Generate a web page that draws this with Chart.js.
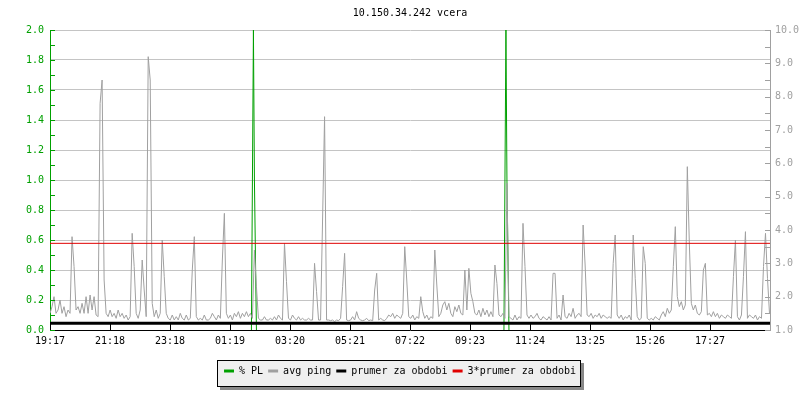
<!DOCTYPE html>
<html>
<head>
<meta charset="utf-8">
<title>10.150.34.242 vcera</title>
<script src="https://cdn.jsdelivr.net/npm/chart.js@4.4.1/dist/chart.umd.min.js"></script>
<style>
  html, body { margin: 0; padding: 0; background: #fff; }
  #wrap { width: 800px; height: 400px; }
</style>
</head>
<body>
<div id="wrap"><canvas id="pingChart" width="800" height="400"></canvas></div>
<script>
// time axis in minutes since 19:17, one ping sample every 4 minutes
const sampleStep = 4;
const spanMinutes = 1437;
const tickStep = 120.75;
const timeLabels = ["19:17", "21:18", "23:18", "01:19", "03:20", "05:21", "07:22", "09:23", "11:24", "13:25", "15:26", "17:27"];

// avg ping (right axis, ms)
const avgPing = [
    1.5, 1.7, 2.0, 1.5, 1.6, 1.9, 1.5, 1.7, 1.4, 1.6, 1.5, 3.8, 2.9, 1.6, 1.7, 1.5, 1.8, 1.5, 2.0, 1.5,
    2.05, 1.6, 2.0, 1.45, 1.4, 7.8, 8.5, 2.5, 1.5, 1.4, 1.6, 1.4, 1.5, 1.35, 1.6, 1.4, 1.5, 1.35, 1.45, 1.3,
    1.4, 3.9, 2.9, 1.5, 1.35, 1.6, 3.1, 2.2, 1.4, 9.2, 8.5, 1.8, 1.4, 1.6, 1.35, 1.5, 3.7, 2.6, 1.5, 1.35,
    1.3, 1.45, 1.3, 1.4, 1.3, 1.5, 1.35, 1.3, 1.45, 1.3, 1.35, 2.8, 3.8, 1.4, 1.3, 1.35, 1.3, 1.45, 1.3, 1.3,
    1.35, 1.5, 1.4, 1.3, 1.45, 1.35, 3.1, 4.5, 1.5, 1.35, 1.45, 1.3, 1.5, 1.4, 1.55, 1.35, 1.5, 1.4, 1.55, 1.4,
    1.5, 1.35, 3.4, 2.3, 1.35, 1.3, 1.3, 1.4, 1.3, 1.3, 1.35, 1.3, 1.4, 1.3, 1.45, 1.35, 1.3, 3.6, 2.45, 1.35,
    1.3, 1.45, 1.35, 1.3, 1.4, 1.3, 1.35, 1.3, 1.3, 1.35, 1.3, 1.3, 3.0, 2.15, 1.3, 1.3, 4.3, 7.4, 1.3, 1.3,
    1.28, 1.3, 1.25, 1.3, 1.28, 1.35, 2.3, 3.3, 1.3, 1.28, 1.3, 1.4, 1.3, 1.55, 1.35, 1.3, 1.28, 1.3, 1.35, 1.28,
    1.3, 1.28, 2.2, 2.7, 1.3, 1.35, 1.3, 1.28, 1.35, 1.45, 1.4, 1.5, 1.35, 1.45, 1.4, 1.35, 1.5, 3.5, 2.5, 1.4,
    1.35, 1.45, 1.3, 1.4, 1.35, 2.0, 1.55, 1.35, 1.45, 1.3, 1.4, 1.35, 3.4, 2.35, 1.4, 1.5, 1.75, 1.85, 1.6, 1.8,
    1.5, 1.4, 1.7, 1.55, 1.75, 1.5, 1.45, 2.8, 1.6, 2.85, 2.1, 1.85, 1.5, 1.45, 1.6, 1.4, 1.65, 1.45, 1.6, 1.4,
    1.55, 1.4, 2.95, 2.4, 1.45, 1.4, 1.5, 1.35, 5.4, 1.4, 1.35, 1.3, 1.45, 1.3, 1.4, 1.35, 4.2, 2.9, 1.45, 1.35,
    1.45, 1.35, 1.4, 1.5, 1.35, 1.3, 1.4, 1.35, 1.3, 1.4, 1.3, 2.7, 2.7, 1.35, 1.45, 1.3, 2.05, 1.4, 1.35, 1.5,
    1.4, 1.65, 1.35, 1.45, 1.5, 1.4, 4.15, 2.95, 1.45, 1.4, 1.5, 1.35, 1.45, 1.4, 1.5, 1.35, 1.45, 1.4, 1.35, 1.4,
    1.35, 3.0, 3.85, 1.45, 1.35, 1.45, 1.3, 1.4, 1.35, 1.45, 1.3, 3.85, 2.55, 1.4, 1.3, 1.35, 3.5, 3.0, 1.35, 1.3,
    1.35, 1.3, 1.4, 1.35, 1.3, 1.45, 1.55, 1.4, 1.65, 1.5, 1.6, 2.9, 4.1, 2.0, 1.7, 1.85, 1.6, 1.75, 5.9, 3.6,
    1.8, 1.6, 1.75, 1.5, 1.45, 1.55, 2.8, 3.0, 1.45, 1.5, 1.4, 1.55, 1.4, 1.5, 1.35, 1.45, 1.4, 1.35, 1.45, 1.4,
    1.35, 2.6, 3.7, 1.4, 1.3, 1.45, 2.6, 3.95, 1.35, 1.45, 1.4, 1.35, 1.45, 1.3, 1.4, 1.35, 2.9, 3.9, 2.55, 1.5
];

// % PL (left axis), only the two loss events, null breaks the line
const plMinutes = [402, 406, 408, 412, 660, 906, 910, 912, 916];
const plValues = [0, 2.0, 1.0, 0, null, 0, 2.0, 1.0, 0];

// period average of the ping
const meanPing = 1.2;

const plColor = "#00a000";
const pingColor = "#a0a0a0";
const meanColor = "#000000";
const tripleColor = "#e00000";
const gridColor = "#c4c4c4";

Chart.defaults.font.family = "'DejaVu Sans Mono', monospace";
Chart.defaults.font.size = 10;

// short inward tick marks on all three axes
const axisTicks = {
    id: "axisTicks",
    afterDraw(chart) {
        const { ctx, chartArea } = chart;
        const { x, yPL, yPing } = chart.scales;
        ctx.save();
        ctx.lineWidth = 1;

        ctx.strokeStyle = plColor;
        ctx.beginPath();
        yPL.ticks.forEach((t, i) => {
            const vals = [t.value];
            if (i + 1 < yPL.ticks.length) vals.push((t.value + yPL.ticks[i + 1].value) / 2);
            vals.forEach(v => {
                const py = Math.round(yPL.getPixelForValue(v)) + 0.5;
                ctx.moveTo(chartArea.left, py);
                ctx.lineTo(chartArea.left + 5, py);
            });
        });
        ctx.stroke();

        ctx.strokeStyle = pingColor;
        ctx.beginPath();
        yPing.ticks.forEach((t, i) => {
            const vals = [t.value];
            if (i + 1 < yPing.ticks.length) vals.push((t.value + yPing.ticks[i + 1].value) / 2);
            vals.forEach(v => {
                const py = Math.round(yPing.getPixelForValue(v)) + 0.5;
                ctx.moveTo(chartArea.right - 5, py);
                ctx.lineTo(chartArea.right, py);
            });
        });
        ctx.stroke();

        ctx.strokeStyle = "#000";
        ctx.beginPath();
        x.ticks.forEach(t => {
            const px = Math.round(x.getPixelForValue(t.value)) + 0.5;
            ctx.moveTo(px, chartArea.bottom);
            ctx.lineTo(px, chartArea.bottom - 7);
        });
        ctx.stroke();
        ctx.restore();
    }
};

// grey framed box with a shadow behind the legend items
const legendBox = {
    id: "legendBox",
    beforeDraw(chart) {
        const boxes = chart.legend.legendHitBoxes;
        if (!boxes || !boxes.length) return;
        const left = Math.round(Math.min(...boxes.map(b => b.left))) - 7;
        const right = Math.round(Math.max(...boxes.map(b => b.left + b.width))) + 5;
        const mid = boxes[0].top + boxes[0].height / 2;
        const top = Math.round(mid - 11);
        const bottom = top + 27;
        const ctx = chart.ctx;
        ctx.save();
        ctx.fillStyle = "#888";
        ctx.fillRect(left + 3, top + 3, right - left, bottom - top);
        ctx.fillStyle = "#efefef";
        ctx.fillRect(left, top, right - left, bottom - top);
        ctx.strokeStyle = "#000";
        ctx.lineWidth = 1;
        ctx.strokeRect(left + 0.5, top + 0.5, right - left - 1, bottom - top - 1);
        ctx.restore();
    }
};

new Chart(document.getElementById("pingChart").getContext("2d"), {
    type: "line",
    data: {
        datasets: [
            {
                label: "% PL",
                data: plMinutes.map((m, i) => ({ x: m, y: plValues[i] })),
                yAxisID: "yPL",
                borderColor: plColor,
                backgroundColor: plColor,
                borderWidth: 1,
                order: 4
            },
            {
                label: "avg ping",
                data: avgPing.map((v, i) => ({ x: i * sampleStep, y: v })),
                yAxisID: "yPing",
                borderColor: pingColor,
                backgroundColor: pingColor,
                borderWidth: 1,
                order: 3
            },
            {
                label: "prumer za obdobi",
                data: [{ x: 0, y: meanPing }, { x: spanMinutes, y: meanPing }],
                yAxisID: "yPing",
                borderColor: meanColor,
                backgroundColor: meanColor,
                borderWidth: 3,
                order: 2
            },
            {
                label: "3*prumer za obdobi",
                data: [{ x: 0, y: 3 * meanPing }, { x: spanMinutes, y: 3 * meanPing }],
                yAxisID: "yPing",
                borderColor: tripleColor,
                backgroundColor: tripleColor,
                borderWidth: 1,
                order: 1
            }
        ]
    },
    options: {
        responsive: false,
        animation: false,
        devicePixelRatio: 1,
        events: [],
        elements: {
            point: { radius: 0 },
            line: { tension: 0, fill: false }
        },
        layout: { padding: { bottom: 14 } },
        scales: {
            x: {
                type: "linear",
                min: 0,
                max: spanMinutes,
                grid: { display: false, drawTicks: false },
                border: { color: "#000" },
                ticks: {
                    stepSize: tickStep,
                    includeBounds: false,
                    autoSkip: false,
                    maxRotation: 0,
                    padding: 5,
                    color: "#000",
                    callback: v => timeLabels[Math.round(v / tickStep)]
                },
                afterFit: s => { s.height = 31; }
            },
            yPL: {
                position: "left",
                min: 0,
                max: 2,
                grid: {
                    drawTicks: false,
                    color: ctx => (ctx.tick && ctx.tick.value === 0 ? "rgba(0,0,0,0)" : gridColor)
                },
                border: { color: plColor },
                ticks: {
                    stepSize: 0.2,
                    padding: 6,
                    color: plColor,
                    callback: v => v.toFixed(1)
                },
                afterFit: s => { s.width = 50; }
            },
            yPing: {
                position: "right",
                min: 1,
                max: 10,
                grid: { display: false, drawTicks: false },
                border: { color: pingColor },
                ticks: {
                    stepSize: 1,
                    padding: 5,
                    color: pingColor,
                    callback: v => v.toFixed(1)
                },
                afterFit: s => { s.width = 30; }
            }
        },
        plugins: {
            title: {
                display: true,
                text: "10.150.34.242 vcera",
                color: "#000",
                fullSize: false,
                font: { size: 10, weight: "normal" },
                padding: { top: 7, bottom: 11 }
            },
            legend: {
                position: "bottom",
                labels: {
                    boxWidth: 10,
                    boxHeight: 3,
                    padding: 5,
                    color: "#000",
                    font: { size: 10 },
                    sort: (a, b) => a.datasetIndex - b.datasetIndex,
                    generateLabels: chart => Chart.defaults.plugins.legend.labels.generateLabels(chart)
                        .map(item => ({ ...item, lineWidth: 0, fillStyle: item.strokeStyle }))
                }
            },
            tooltip: { enabled: false }
        }
    },
    plugins: [legendBox, axisTicks]
});
</script>
</body>
</html>
